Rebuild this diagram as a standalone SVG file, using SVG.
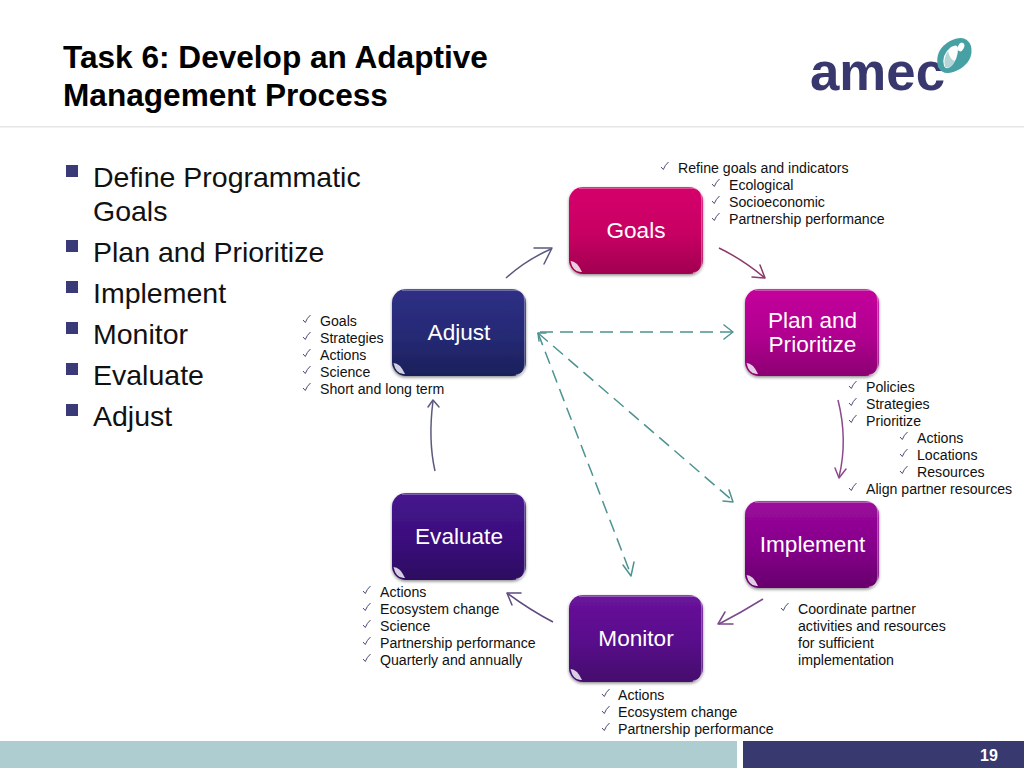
<svg xmlns="http://www.w3.org/2000/svg" xmlns:xlink="http://www.w3.org/1999/xlink" width="1024" height="768" viewBox="0 0 1024 768">
<style>
text{font-family:"Liberation Sans",Arial,sans-serif;fill:#111}
.t{font-size:31.6px;font-weight:bold;fill:#000}
.b{font-size:28.5px;fill:#111}
.s{font-size:14.15px}
.n{font-size:22.6px;fill:#fff;text-anchor:middle}
.ck{fill:none;stroke:#4a4a78;stroke-width:1}
.sq{fill:#3a3a78}
.c{fill:none;stroke-width:1.5}
.d{fill:none;stroke:#4d9391;stroke-width:1.5;stroke-dasharray:13 7}
.ah{fill:none;stroke-width:1.5;stroke-linecap:round;stroke-linejoin:round}
.edge{fill:none;stroke:#fff;stroke-opacity:.4;stroke-width:1.2}
</style>
<defs>
<linearGradient id="g1" x1="0" y1="0" x2="0" y2="1"><stop offset="0" stop-color="#d6006c"/><stop offset=".55" stop-color="#c70063"/><stop offset="1" stop-color="#a0004f"/></linearGradient>
<linearGradient id="g2" x1="0" y1="0" x2="0" y2="1"><stop offset="0" stop-color="#c4059c"/><stop offset=".55" stop-color="#b00090"/><stop offset="1" stop-color="#8c0072"/></linearGradient>
<linearGradient id="g3" x1="0" y1="0" x2="0" y2="1"><stop offset="0" stop-color="#9b0a9c"/><stop offset=".55" stop-color="#85008a"/><stop offset="1" stop-color="#67006c"/></linearGradient>
<linearGradient id="g4" x1="0" y1="0" x2="0" y2="1"><stop offset="0" stop-color="#6a139c"/><stop offset=".55" stop-color="#580c8a"/><stop offset="1" stop-color="#44086c"/></linearGradient>
<linearGradient id="g5" x1="0" y1="0" x2="0" y2="1"><stop offset="0" stop-color="#46158e"/><stop offset=".55" stop-color="#3a0f7c"/><stop offset="1" stop-color="#2c0a60"/></linearGradient>
<linearGradient id="g6" x1="0" y1="0" x2="0" y2="1"><stop offset="0" stop-color="#2f2f86"/><stop offset=".55" stop-color="#252a74"/><stop offset="1" stop-color="#1b1f5a"/></linearGradient>
<filter id="sh" x="-10%" y="-10%" width="120%" height="125%"><feDropShadow dx="0" dy="1.5" stdDeviation="1.5" flood-color="#000" flood-opacity=".45"/></filter>
<symbol id="ck" viewBox="0 0 12 12" width="12" height="12" overflow="visible"><path class="ck" d="M2 7 L4.300 9.500 Q6 5 9.500 2"/></symbol>
<g id="box"><rect width="134" height="87" rx="14" ry="14" filter="url(#sh)"/></g>
<g id="gloss"><path d="M1.500 74 Q8 74 13 85 Q4 86 1.500 74Z" fill="#fff" fill-opacity=".8"/><path class="edge" d="M10 1.200 H124 Q132.800 1.200 132.800 12 V75 Q132.800 85.800 124 85.800"/></g>
</defs>

<g id="header">
<rect x="0" y="126" width="1024" height="1.5" fill="#e6e6e6"/>
<text class="t" x="63" y="68">Task 6: Develop an Adaptive</text>
<text class="t" x="63" y="106">Management Process</text>
</g>

<g id="logo">
<text x="810" y="90" font-size="54" font-weight="bold" textLength="135" lengthAdjust="spacingAndGlyphs" style="fill:#38386f">amec</text>
<path d="M938 67 Q934 50 950 41 Q966 33 971 46 Q974 60 960 69 Q944 78 938 67Z" fill="#46a0a4"/>
<path d="M944 66 Q941 55 951 47 Q958 43 958 49 Q958 60 950 67 Q946 70 944 66Z" fill="#fff"/>
<path d="M945 67 Q943 58 948 51 Q950 60 955 61 Q951 70 945 67Z" fill="#b5d6d8"/>
<ellipse cx="961" cy="47" rx="3" ry="4.500" transform="rotate(25 961 47)" fill="#fff"/>
</g>

<g id="bullets">
<rect class="sq" x="66" y="165" width="12" height="12"/><text class="b" x="93" y="187">Define Programmatic</text><text class="b" x="93" y="221">Goals</text>
<rect class="sq" x="66" y="240" width="12" height="12"/><text class="b" x="93" y="262">Plan and Prioritize</text>
<rect class="sq" x="66" y="281" width="12" height="12"/><text class="b" x="93" y="303">Implement</text>
<rect class="sq" x="66" y="322" width="12" height="12"/><text class="b" x="93" y="344">Monitor</text>
<rect class="sq" x="66" y="363" width="12" height="12"/><text class="b" x="93" y="385">Evaluate</text>
<rect class="sq" x="66" y="404" width="12" height="12"/><text class="b" x="93" y="426">Adjust</text>
</g>

<g id="connectors">
<path class="c" stroke="#5a5a80" d="M506 278 Q526 260 551 249"/>
<path class="ah" stroke="#5a5a80" d="M534 248 L552 248 L544 264"/>
<path class="c" stroke="#8c3a6a" d="M719 248 Q742 259 765 278"/>
<path class="ah" stroke="#8c3a6a" d="M752 277 L765 278 L760 265"/>
<path class="c" stroke="#8c4a8c" d="M838 400 Q848 440 839 477"/>
<path class="ah" stroke="#8c4a8c" d="M835 468 L839 478 L846 469"/>
<path class="c" stroke="#7a4a8c" d="M763 599 Q742 612 719 624"/>
<path class="ah" stroke="#7a4a8c" d="M725 612 L718 624 L733 624"/>
<path class="c" stroke="#5f4a80" d="M553 622 Q530 610 507 593"/>
<path class="ah" stroke="#5f4a80" d="M521 593 L507 593 L512 605"/>
<path class="c" stroke="#5a5a80" d="M435 471 Q428 440 433 401"/>
<path class="ah" stroke="#5a5a80" d="M428 407 L433 400 L439 407"/>
<path class="d" d="M540 332 H733"/>
<path class="ah" stroke="#4d9391" d="M724 325 L733 332 L724 339"/>
<path class="d" d="M538 333 L733 501"/>
<path class="ah" stroke="#4d9391" d="M723 501 L733 502 L729 490"/>
<path class="d" d="M538 333 L631 575"/>
<path class="ah" stroke="#4d9391" d="M623 565 L631 576 L634 562"/>
<path class="ah" stroke="#4d9391" d="M539 341 L538 333 L546 333"/>
</g>

<g id="node-goals"><use href="#box" x="569" y="187" fill="url(#g1)"/><use href="#gloss" x="569" y="187"/><text class="n" x="636" y="238">Goals</text></g>
<g id="node-plan"><use href="#box" x="745" y="289" fill="url(#g2)"/><use href="#gloss" x="745" y="289"/><text class="n" x="812.500" y="328">Plan and</text><text class="n" x="812.500" y="352">Prioritize</text></g>
<g id="node-implement"><use href="#box" x="745" y="501" fill="url(#g3)"/><use href="#gloss" x="745" y="501"/><text class="n" x="812.500" y="552">Implement</text></g>
<g id="node-monitor"><use href="#box" x="569" y="595" fill="url(#g4)"/><use href="#gloss" x="569" y="595"/><text class="n" x="636" y="646">Monitor</text></g>
<g id="node-evaluate"><use href="#box" x="392" y="493" fill="url(#g5)"/><use href="#gloss" x="392" y="493"/><text class="n" x="459" y="544">Evaluate</text></g>
<g id="node-adjust"><use href="#box" x="392" y="289" fill="url(#g6)"/><use href="#gloss" x="392" y="289"/><text class="n" x="459" y="340">Adjust</text></g>

<g id="notes-goals">
<use href="#ck" x="659" y="160"/><text class="s" x="678" y="173">Refine goals and indicators</text>
<use href="#ck" x="710" y="177"/><text class="s" x="729" y="190">Ecological</text>
<use href="#ck" x="710" y="194"/><text class="s" x="729" y="207">Socioeconomic</text>
<use href="#ck" x="710" y="211"/><text class="s" x="729" y="224">Partnership performance</text>
</g>
<g id="notes-adjust">
<use href="#ck" x="301" y="313"/><text class="s" x="320" y="326">Goals</text>
<use href="#ck" x="301" y="330"/><text class="s" x="320" y="343">Strategies</text>
<use href="#ck" x="301" y="347"/><text class="s" x="320" y="360">Actions</text>
<use href="#ck" x="301" y="364"/><text class="s" x="320" y="377">Science</text>
<use href="#ck" x="301" y="381"/><text class="s" x="320" y="394">Short and long term</text>
</g>
<g id="notes-plan">
<use href="#ck" x="847" y="379"/><text class="s" x="866" y="392">Policies</text>
<use href="#ck" x="847" y="396"/><text class="s" x="866" y="409">Strategies</text>
<use href="#ck" x="847" y="413"/><text class="s" x="866" y="426">Prioritize</text>
<use href="#ck" x="898" y="430"/><text class="s" x="917" y="443">Actions</text>
<use href="#ck" x="898" y="447"/><text class="s" x="917" y="460">Locations</text>
<use href="#ck" x="898" y="464"/><text class="s" x="917" y="477">Resources</text>
<use href="#ck" x="847" y="481"/><text class="s" x="866" y="494">Align partner resources</text>
</g>
<g id="notes-implement">
<use href="#ck" x="779" y="601"/><text class="s" x="798" y="614">Coordinate partner</text>
<text class="s" x="798" y="631">activities and resources</text>
<text class="s" x="798" y="648">for sufficient</text>
<text class="s" x="798" y="665">implementation</text>
</g>
<g id="notes-monitor">
<use href="#ck" x="600" y="687"/><text class="s" x="618" y="700">Actions</text>
<use href="#ck" x="600" y="704"/><text class="s" x="618" y="717">Ecosystem change</text>
<use href="#ck" x="600" y="721"/><text class="s" x="618" y="734">Partnership performance</text>
</g>
<g id="notes-evaluate">
<use href="#ck" x="361" y="584"/><text class="s" x="380" y="597">Actions</text>
<use href="#ck" x="361" y="601"/><text class="s" x="380" y="614">Ecosystem change</text>
<use href="#ck" x="361" y="618"/><text class="s" x="380" y="631">Science</text>
<use href="#ck" x="361" y="635"/><text class="s" x="380" y="648">Partnership performance</text>
<use href="#ck" x="361" y="652"/><text class="s" x="380" y="665">Quarterly and annually</text>
</g>

<g id="footer">
<rect x="0" y="741" width="737" height="27" fill="#aecdd0"/>
<rect x="743" y="741" width="281" height="27" fill="#37396f"/>
<text x="980" y="761" font-size="16" font-weight="bold" style="fill:#fff">19</text>
</g>
</svg>
